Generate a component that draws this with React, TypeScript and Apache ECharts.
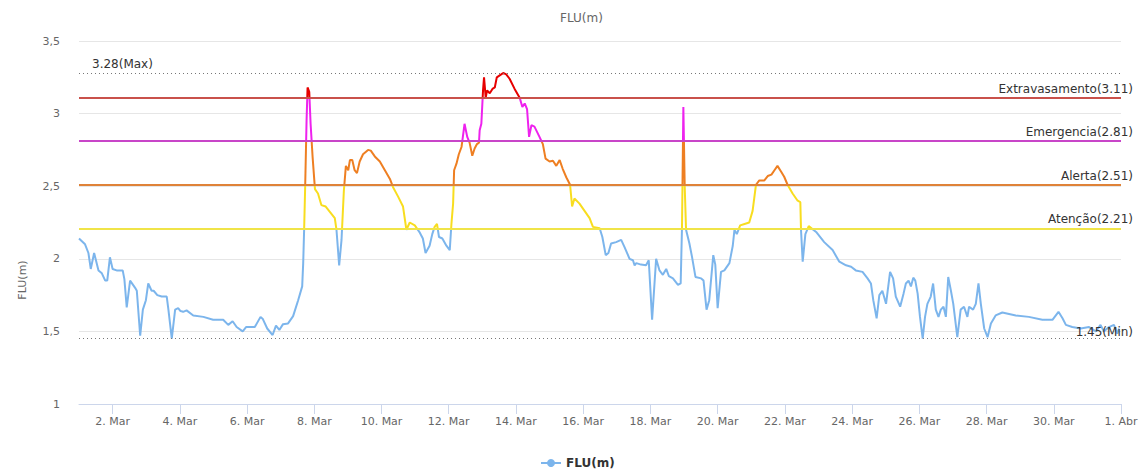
import React, { useEffect, useRef } from "react";
import * as echarts from "echarts";

// x = days since 1 Mar 00:00, y = level (m)
const days = [
  0.0, 0.18, 0.28, 0.35, 0.45, 0.58, 0.68, 0.78, 0.84, 0.92, 1.0, 1.12, 1.3, 1.35, 1.42, 1.52, 1.67, 1.72, 1.82, 1.9,
  1.99, 2.06, 2.16, 2.22, 2.33, 2.46, 2.61, 2.66, 2.76, 2.86, 2.95, 3.02, 3.1, 3.2, 3.4, 3.7, 3.99, 4.29, 4.44, 4.57,
  4.69, 4.87, 4.97, 5.23, 5.4, 5.47, 5.6, 5.76, 5.86, 5.96, 6.07, 6.22, 6.37, 6.52, 6.64, 6.67, 6.7, 6.73, 6.77, 6.8,
  6.85, 6.89, 6.95, 7.02, 7.11, 7.21, 7.34, 7.51, 7.61, 7.66, 7.74, 7.81, 7.88, 7.94, 8.01, 8.06, 8.13, 8.2, 8.27, 8.35,
  8.45, 8.6, 8.68, 8.8, 8.95, 9.1, 9.25, 9.34, 9.49, 9.64, 9.74, 9.84, 9.99, 10.14, 10.23, 10.31, 10.43, 10.51, 10.58, 10.65,
  10.71, 10.81, 10.93, 11.03, 11.08, 11.13, 11.16, 11.23, 11.3, 11.38, 11.42, 11.47, 11.55, 11.62, 11.7, 11.77, 11.84, 11.9, 11.92, 11.97,
  12.02, 12.05, 12.1, 12.14, 12.22, 12.3, 12.37, 12.43, 12.56, 12.62, 12.71, 12.81, 12.96, 13.11, 13.19, 13.26, 13.33, 13.39, 13.46, 13.55,
  13.7, 13.8, 13.88, 14.0, 14.1, 14.2, 14.3, 14.39, 14.5, 14.61, 14.67, 14.74, 14.89, 15.04, 15.19, 15.29, 15.49, 15.57, 15.67, 15.75,
  15.83, 15.98, 16.13, 16.23, 16.38, 16.48, 16.53, 16.58, 16.72, 16.87, 16.95, 17.05, 17.17, 17.27, 17.37, 17.47, 17.55, 17.67, 17.82, 17.9,
  17.94, 17.98, 18.02, 18.06, 18.16, 18.24, 18.34, 18.51, 18.58, 18.67, 18.75, 18.87, 18.93, 19.0, 19.1, 19.2, 19.35, 19.45, 19.5, 19.57,
  19.67, 19.8, 19.94, 20.04, 20.14, 20.24, 20.39, 20.49, 20.6, 20.69, 20.78, 20.89, 20.98, 21.08, 21.23, 21.38, 21.46, 21.48, 21.53, 21.61,
  21.71, 21.93, 22.17, 22.42, 22.62, 22.82, 22.97, 23.11, 23.31, 23.46, 23.56, 23.63, 23.73, 23.81, 23.9, 24.01, 24.13, 24.22, 24.3, 24.43,
  24.53, 24.6, 24.68, 24.75, 24.82, 24.88, 24.95, 25.02, 25.1, 25.17, 25.24, 25.34, 25.41, 25.49, 25.57, 25.64, 25.72, 25.79, 25.86, 25.94,
  26.01, 26.13, 26.23, 26.33, 26.43, 26.48, 26.6, 26.68, 26.76, 26.83, 26.93, 27.03, 27.13, 27.27, 27.47, 27.87, 28.26, 28.66, 28.96, 29.14,
  29.26, 29.36, 29.55, 29.8, 30.05, 30.25, 30.39, 30.49, 30.64, 30.79, 30.89, 30.94,
];

const levels = [
  2.14, 2.1, 2.04, 1.93, 2.04, 1.92, 1.9, 1.85, 1.85, 2.01, 1.93, 1.92, 1.92, 1.86, 1.665, 1.85, 1.8, 1.78, 1.47, 1.65,
  1.715, 1.83, 1.78, 1.78, 1.75, 1.74, 1.74, 1.65, 1.45, 1.65, 1.66, 1.64, 1.635, 1.645, 1.61, 1.6, 1.58, 1.58, 1.545, 1.57,
  1.53, 1.5, 1.53, 1.53, 1.6, 1.585, 1.52, 1.475, 1.54, 1.51, 1.55, 1.555, 1.605, 1.715, 1.81, 1.97, 2.22, 2.51, 2.95, 3.18,
  3.15, 2.93, 2.7, 2.48, 2.45, 2.37, 2.36, 2.31, 2.28, 2.2, 1.955, 2.13, 2.47, 2.64, 2.61, 2.68, 2.68, 2.61, 2.59, 2.67,
  2.72, 2.75, 2.745, 2.705, 2.67, 2.61, 2.55, 2.495, 2.43, 2.36, 2.2, 2.25, 2.23, 2.18, 2.14, 2.04, 2.09, 2.17, 2.22, 2.24,
  2.15, 2.14, 2.09, 2.06, 2.24, 2.38, 2.61, 2.655, 2.72, 2.77, 2.84, 2.93, 2.84, 2.8, 2.71, 2.76, 2.79, 2.8, 2.885, 2.93,
  3.16, 3.25, 3.11, 3.16, 3.14, 3.17, 3.18, 3.25, 3.27, 3.28, 3.27, 3.24, 3.17, 3.11, 3.045, 3.07, 3.03, 2.84, 2.92, 2.91,
  2.84, 2.79, 2.69, 2.67, 2.675, 2.64, 2.68, 2.62, 2.56, 2.51, 2.36, 2.415, 2.38, 2.33, 2.28, 2.22, 2.21, 2.15, 2.025, 2.04,
  2.105, 2.115, 2.13, 2.08, 2.0, 1.99, 1.955, 1.97, 1.96, 1.955, 1.99, 1.58, 2.0, 1.92, 1.89, 1.93, 1.88, 1.865, 1.82, 1.83,
  2.22, 3.045, 2.5, 2.2, 2.105, 2.01, 1.875, 1.865, 1.85, 1.65, 1.715, 2.025, 1.96, 1.66, 1.91, 1.92, 1.97, 2.09, 2.2, 2.17,
  2.23, 2.24, 2.25, 2.33, 2.51, 2.54, 2.54, 2.57, 2.58, 2.61, 2.64, 2.6, 2.565, 2.51, 2.45, 2.4, 2.39, 2.2, 1.98, 2.17,
  2.225, 2.185, 2.115, 2.06, 1.98, 1.955, 1.945, 1.92, 1.91, 1.865, 1.83, 1.715, 1.59, 1.75, 1.78, 1.69, 1.91, 1.865, 1.74, 1.67,
  1.76, 1.83, 1.85, 1.81, 1.87, 1.85, 1.76, 1.6, 1.45, 1.6, 1.69, 1.74, 1.83, 1.65, 1.6, 1.65, 1.67, 1.6, 1.875, 1.78,
  1.69, 1.46, 1.65, 1.67, 1.6, 1.67, 1.65, 1.69, 1.83, 1.69, 1.52, 1.46, 1.555, 1.61, 1.63, 1.61, 1.6, 1.58, 1.58, 1.635,
  1.59, 1.545, 1.53, 1.52, 1.53, 1.5, 1.545, 1.5, 1.53, 1.545, 1.485, 1.52,
];

const thresholdNames = ["Extravasamento", "Emergencia", "Alerta", "Atenção"];
const thresholdValues = [3.11, 2.81, 2.51, 2.21];
const thresholdLineColors = ["#c9514b", "#c845c8", "#df8238", "#f0e448"];

// zone colours from lowest to highest
const zoneColors = ["#7cb5ec", "#f8dd1f", "#ee7f22", "#ee22ee", "#e60000"];

const maxLevel = 3.28;
const minLevel = 1.45;

const xTickDays = [1, 3, 5, 7, 9, 11, 13, 15, 17, 19, 21, 23, 25, 27, 29, 31];
const FONT = "DejaVu Sans, Verdana, sans-serif";

export default function App() {
  const ref = useRef<HTMLDivElement>(null);

  useEffect(() => {
    if (!ref.current) return;
    const chart = echarts.init(ref.current, null, { renderer: "svg" });
    const data = days.map((d, i) => [d, levels[i]]);
    const asc = [...thresholdValues].sort((a, b) => a - b);

    const pieces = [
      { lt: asc[0], color: zoneColors[0] },
      { gte: asc[0], lt: asc[1], color: zoneColors[1] },
      { gte: asc[1], lt: asc[2], color: zoneColors[2] },
      { gte: asc[2], lt: asc[3], color: zoneColors[3] },
      { gte: asc[3], color: zoneColors[4] },
    ];

    const markData: any[] = thresholdValues.map((v, i) => ({
      yAxis: v,
      lineStyle: { color: thresholdLineColors[i], type: "solid", width: 2 },
      label: {
        show: true,
        position: "insideEndTop",
        formatter: `${thresholdNames[i]}(${v.toFixed(2)})`,
        distance: [-12, 3],
      },
    }));
    markData.push({
      yAxis: maxLevel,
      lineStyle: { color: "#777", type: [1, 3], width: 1 },
      label: {
        show: true,
        position: "insideStartTop",
        formatter: `${maxLevel.toFixed(2)}(Max)`,
        distance: [13, 3],
      },
    });
    markData.push({
      yAxis: minLevel,
      lineStyle: { color: "#777", type: [1, 3], width: 1 },
      label: {
        show: true,
        position: "insideEndTop",
        formatter: `${minLevel.toFixed(2)}(Min)`,
        distance: [-12, 1],
      },
    });

    chart.setOption({
      animation: false,
      title: {
        text: "FLU(m)",
        left: 555,
        top: 7,
        textStyle: { fontSize: 12, fontWeight: "normal", color: "#666", fontFamily: FONT },
      },
      legend: {
        left: 535,
        top: 452,
        itemWidth: 20,
        itemHeight: 10,
        itemGap: 8,
        textStyle: { fontSize: 12, fontWeight: "bold", color: "#333", fontFamily: FONT },
        data: [
          {
            name: "FLU(m)",
            itemStyle: { color: zoneColors[0] },
            lineStyle: { color: zoneColors[0] },
          },
        ],
      },
      grid: { left: 79, right: 24, top: 41, height: 363 },
      xAxis: {
        type: "value",
        min: 0,
        max: 31,
        splitLine: { show: false },
        axisLine: { lineStyle: { color: "#ccd6eb" } },
        axisTick: { show: true, length: 10, customValues: xTickDays, lineStyle: { color: "#ccd6eb" } },
        axisLabel: {
          customValues: xTickDays,
          margin: 12,
          color: "#666",
          fontSize: 11,
          fontFamily: FONT,
          formatter: (v: number) => (v >= 31 ? `${v - 30}. Abr` : `${v + 1}. Mar`),
        },
      },
      yAxis: {
        type: "value",
        min: 1,
        max: 3.5,
        interval: 0.5,
        axisLine: { show: false },
        axisTick: { show: false },
        splitLine: { lineStyle: { color: "#e6e6e6" } },
        axisLabel: {
          margin: 19,
          color: "#666",
          fontSize: 11,
          fontFamily: FONT,
          formatter: (v: number) => String(v).replace(".", ","),
        },
      },
      visualMap: {
        show: false,
        type: "piecewise",
        seriesIndex: 0,
        dimension: 1,
        pieces,
      },
      graphic: [
        {
          type: "text",
          x: 22,
          y: 280,
          rotation: Math.PI / 2,
          style: {
            text: "FLU(m)",
            fill: "#666",
            font: `11px ${FONT}`,
            align: "center",
            verticalAlign: "middle",
          },
        },
      ],
      series: [
        {
          name: "FLU(m)",
          type: "line",
          data,
          showSymbol: false,
          symbol: "circle",
          symbolSize: 8,
          itemStyle: { color: zoneColors[0] },
          lineStyle: { width: 2 },
          markLine: {
            silent: true,
            symbol: "none",
            label: { color: "#333", fontSize: 12, fontFamily: FONT },
            data: markData,
          },
        },
      ],
    });
    return () => chart.dispose();
  }, []);

  return (
    <div
      ref={ref}
      style={{ position: "fixed", left: 0, top: 0, width: 1145, height: 470, background: "#fff" }}
    />
  );
}
